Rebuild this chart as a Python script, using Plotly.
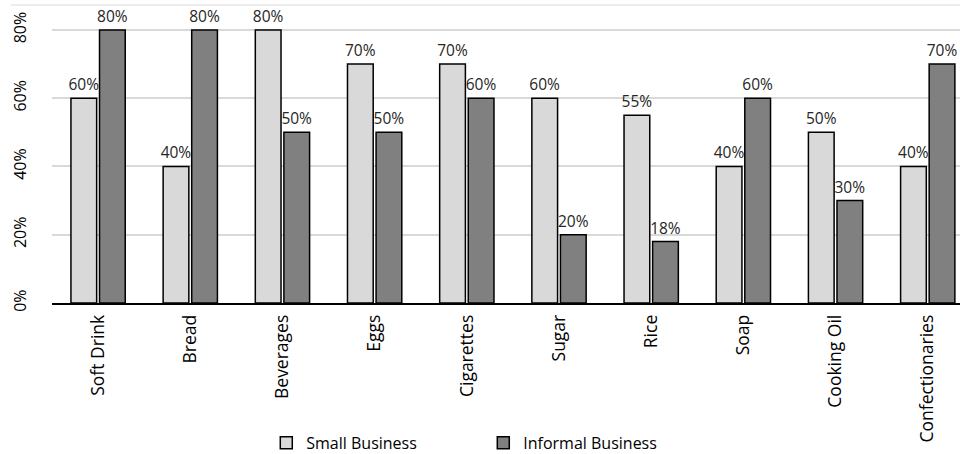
import plotly.graph_objects as go

categories = ["Soft Drink", "Bread", "Beverages", "Eggs", "Cigarettes", "Sugar",
              "Rice", "Soap", "Cooking Oil", "Confectionaries"]
small_business = [0.60, 0.40, 0.80, 0.70, 0.70, 0.60, 0.55, 0.40, 0.50, 0.40]
informal_business = [0.80, 0.80, 0.50, 0.50, 0.60, 0.20, 0.18, 0.60, 0.30, 0.70]
y_ticks = [0, 0.2, 0.4, 0.6, 0.8]
y_tick_labels = ["0%", "20%", "40%", "60%", "80%"]

FONT = "Open Sans"

fig = go.Figure()
fig.add_trace(go.Bar(
    name="Small Business", x=categories, y=small_business,
    marker=dict(color="#d9d9d9", line=dict(color="#000000", width=1.5)),
    texttemplate="%{y:.0%}", textposition="outside", cliponaxis=False,
    constraintext="none", textangle=0,
    textfont=dict(family=FONT, size=15.5, color="#262626"),
))
fig.add_trace(go.Bar(
    name="Informal Business", x=categories, y=informal_business,
    marker=dict(color="#808080", line=dict(color="#000000", width=1.5)),
    texttemplate="%{y:.0%}", textposition="outside", cliponaxis=False,
    constraintext="none", textangle=0,
    textfont=dict(family=FONT, size=15.5, color="#262626"),
))

fig.update_layout(
    width=960, height=454,
    margin=dict(l=52, r=0, t=5, b=151, autoexpand=False),
    paper_bgcolor="white", plot_bgcolor="white",
    barmode="group", bargap=0.38, bargroupgap=0.1,
    font=dict(family=FONT, size=16, color="#000000"),
    showlegend=True,
    legend=dict(orientation="h", x=0.236, xanchor="left", y=-0.412, yanchor="top",
                entrywidth=172, entrywidthmode="pixels",
                font=dict(family=FONT, size=16, color="#000000")),
    xaxis=dict(range=[-0.5, 9.35], tickangle=-90, showgrid=False, automargin=False,
               showline=True, linecolor="#000000", linewidth=1.5,
               ticks="", ticklabelstandoff=3,
               tickfont=dict(family=FONT, size=17.5, color="#000000")),
    yaxis=dict(range=[0, 0.873], tickvals=y_ticks, ticktext=y_tick_labels, automargin=False,
               tickangle=-90, showgrid=True, gridcolor="#d9d9d9", gridwidth=1.5,
               zeroline=False, showline=False, ticks="", ticklabelstandoff=22,
               tickfont=dict(family=FONT, size=16, color="#000000")),
    shapes=[dict(type="line", xref="paper", yref="paper", x0=-0.045, x1=1, y0=1, y1=1,
                 line=dict(color="#e6e6e6", width=1.5))],
)

fig.write_html("out.html", config={"displayModeBar": False},
               post_script="document.body.style.margin='0';document.body.style.padding='0';")
